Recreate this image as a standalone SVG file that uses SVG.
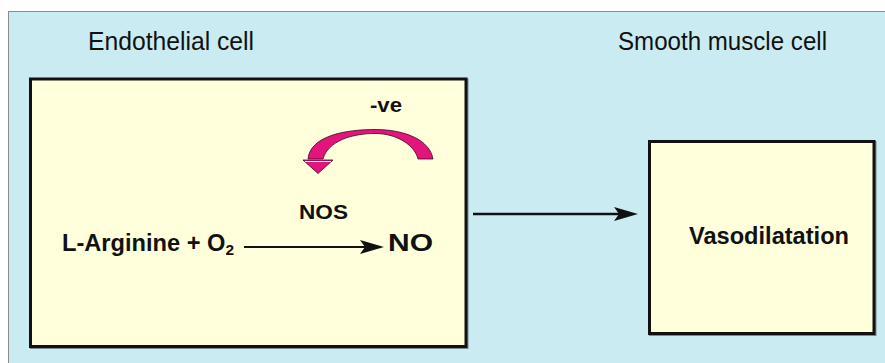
<svg xmlns="http://www.w3.org/2000/svg" width="885" height="363" viewBox="0 0 885 363">
<style>
.label{font-family:"Liberation Sans",Arial,sans-serif;font-size:25px;fill:#111}
.b{font-family:"Liberation Sans",Arial,sans-serif;font-weight:bold;fill:#111}
.box{fill:#FFFFDC;stroke:#111;stroke-width:3}
.shadow{fill:none;stroke:#7a8a8c;stroke-width:3}
.conn{stroke:#111;fill:none}
</style>
<defs>
<marker id="stealth" viewBox="0 0 24 14" markerUnits="userSpaceOnUse" markerWidth="24" markerHeight="14" refX="14" refY="7" orient="auto">
<path d="M0,0 L24,7 L0,14 L5,7 Z" fill="#111"/>
</marker>
</defs>
<rect x="0" y="0" width="885" height="363" fill="#ffffff"/>
<g id="panel">
<rect x="8.5" y="11.5" width="880" height="360" fill="#CAEBF2" stroke="#8c8c8c" stroke-width="1"/>
<text class="label" x="88" y="50" textLength="166" lengthAdjust="spacingAndGlyphs">Endothelial cell</text>
<text class="label" x="618" y="50" textLength="209" lengthAdjust="spacingAndGlyphs">Smooth muscle cell</text>
</g>
<g id="endothelial-cell">
<rect class="shadow" x="31.5" y="80" width="435.5" height="267.5"/>
<rect class="box" x="30.5" y="79" width="435.5" height="267.5"/>
</g>
<g id="smooth-muscle-cell">
<rect class="shadow" x="650.5" y="142.5" width="224.5" height="192"/>
<rect class="box" x="649.5" y="141.5" width="224.5" height="192"/>
<text class="b" x="689" y="244" font-size="23" textLength="160" lengthAdjust="spacingAndGlyphs">Vasodilatation</text>
</g>
<g id="reactant">
<text class="b" x="62" y="251" font-size="23" textLength="172" lengthAdjust="spacingAndGlyphs">L-Arginine + O<tspan font-size="15" dy="4">2</tspan></text>
</g>
<g id="enzyme">
<text class="b" x="299" y="219" font-size="21" textLength="49" lengthAdjust="spacingAndGlyphs">NOS</text>
</g>
<g id="product">
<text class="b" x="388" y="251" font-size="23" textLength="45" lengthAdjust="spacingAndGlyphs">NO</text>
</g>
<g id="feedback">
<text class="b" x="370" y="112" font-size="20" textLength="32" lengthAdjust="spacingAndGlyphs">-ve</text>
<path d="M 308 159 C 310 136, 345 129.5, 375 129.5 C 405 129.5, 430 140, 433 159 L 418 159 C 415 146, 398 133.5, 375 133.5 C 352 133.5, 328 141, 323 159 Z" fill="#E3147C" stroke="#3a0a20" stroke-width="0.8"/>
<path d="M 303 160 L 333 160 L 318 173.5 Z" fill="#E3147C" stroke="#3a0a20" stroke-width="0.8"/>
<line x1="305" y1="161.5" x2="331" y2="161.5" stroke="#ffffff" stroke-width="1"/>
</g>
<g id="connectors">
<line class="conn" x1="244" y1="247" x2="374" y2="247" stroke-width="2" marker-end="url(#stealth)"/>
<line class="conn" x1="473" y1="214" x2="628" y2="214" stroke-width="2.7" marker-end="url(#stealth)"/>
</g>
</svg>
